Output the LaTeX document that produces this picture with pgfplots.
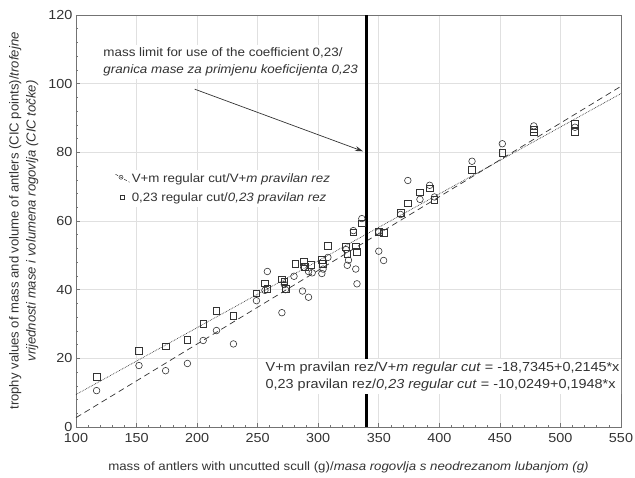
\documentclass[border=0pt]{standalone}
\usepackage{fontspec}
\setmainfont{Liberation Sans}[FakeStretch=1.1]
\newfontfamily\vfont{Liberation Sans}
\usepackage{pgfplots}
\pgfplotsset{compat=1.18}
\usetikzlibrary{arrows.meta}
\definecolor{ink}{HTML}{333333}
\definecolor{gridc}{HTML}{E0E0E0}
\newcommand\fs{\fontsize{13.1}{16.5}\selectfont}
\newcommand\fsm{\fontsize{12.2}{17}\selectfont}

\begin{document}
\begin{tikzpicture}
\path[use as bounding box] (-76pt,-50pt) rectangle (559pt,427pt);
\begin{axis}[
  at={(0,0)}, anchor=south west,
  width=545pt, height=412pt, scale only axis,
  xmin=100, xmax=550, ymin=0, ymax=120,
  xtick={100,150,...,550}, ytick={0,20,...,120},
  minor x tick num=4, minor y tick num=4,
  tick align=inside, tick pos=left,
  major tick length=4pt, minor tick length=2.5pt,
  grid=major, major grid style={gridc, line width=0.6pt},
  axis line style={black!55, line width=0.8pt},
  tick style={black!55, line width=0.6pt},
  ticklabel style={font=\fs, text=ink},
  xticklabel style={yshift=-2.5pt},
  /pgf/number format/assume math mode=true,
  xlabel={mass of antlers with uncutted scull (g)/\textit{masa rogovlja s neodrezanom lubanjom (g)}},
  xlabel style={at={(axis description cs:0.5,-0.097)}, anchor=center, font=\fontsize{12.05}{15}\selectfont, text=ink},
  ylabel={trophy values of mass and volume of antlers (CIC points)/\textit{trofejne}\\\textit{vrijednosti mase i volumena rogovlja (CIC točke)}},
  ylabel style={at={(axis description cs:-0.0957,0.5)}, anchor=center, align=center, font=\vfont\fontsize{13.1}{17}\selectfont, text=ink},
  legend style={at={(0.068,0.624)}, anchor=north west, draw=none, fill=white,
    font=\fontsize{12.1}{14}\selectfont, text=ink, inner sep=2pt, row sep=4.5pt},
  legend cell align=left,
]

\addlegendimage{legend image code/.code={
  \draw[ink, densely dashed, line width=0.5pt] (0pt,5pt) -- (14pt,-3pt);
  \draw[ink, line width=0.5pt] (5.5pt,2pt) circle (2pt);}}
\addlegendentry{V+m regular cut/V+\textit{m pravilan rez}}
\addlegendimage{legend image code/.code={
  \draw[ink, line width=0.5pt] (4.5pt,-1pt) rectangle (8.5pt,3pt);}}
\addlegendentry{0,23 regular cut/\textit{0,23 pravilan rez}}

% V+m regular cut
\addplot[only marks, mark=o, mark size=3.3pt, mark options={ink, line width=0.6pt}, forget plot] coordinates {
(117,10.6) (152,17.9) (174,16.4) (192,18.5) (205,25.2) (216,28.1) (230,24.2)
(249,36.8) (256,39.8) (258,45.3) (270,33.3) (272,41.5) (273,40.0) (280,43.9)
(287,39.6) (292,37.8) (288,46.5) (292,45.3) (295,44.9) (303,44.7) (304,46.0)
(308,49.4) (323,51.7) (324,47.1) (325,48.6) (331,46.0) (332,41.7) (329,57.2)
(336,60.7) (350,51.2) (354,48.5) (350,56.8) (368,61.9) (374,71.8) (384,66.3)
(392,70.4) (396,67.0) (427,77.4) (452,82.5) (478,87.7) (512,87.3)
};
% 0,23 regular cut
\addplot[only marks, mark=square, mark size=3.3pt, mark options={ink, line width=0.6pt}, forget plot] coordinates {
(117,14.6) (152,22.2) (174,23.5) (192,25.4) (205,30.0) (216,33.8) (230,32.4)
(249,39.0) (256,41.8) (258,40.3) (270,43.0) (272,42.4) (273,40.2) (281,47.5)
(288,48.2) (289,46.6) (294,47.2) (303,48.7) (304,47.5) (308,52.8) (323,52.4)
(324,50.5) (331,52.6) (332,51.0) (329,56.7) (336,59.3) (350,56.8) (354,56.5)
(368,62.4) (374,65.1) (384,68.4) (392,69.5) (396,66.1) (427,75.0) (452,79.9)
(478,86.7) (478,85.8) (512,88.3) (512,86.0)
};

% fitted lines
\addplot[ink, line width=0.7pt, dash pattern=on 6pt off 4pt, forget plot] coordinates {(100,2.72) (550,99.24)};
\addplot[ink, line width=0.7pt, densely dotted, forget plot] coordinates {(100,9.46) (550,97.12)};

% mass limit
\addplot[black, line width=2.4pt, forget plot] coordinates {(340,0) (340,120)};

\draw[ink, line width=0.7pt, -{Stealth[length=8pt,width=5pt]}] (axis cs:198,98.4) -- (axis cs:337,80.3);

\node[fill=white, anchor=north west, align=left, inner sep=3pt, font=\fsm, text=ink]
  at (axis cs:120,111.3) {mass limit for use of the coefficient 0,23/\\\textit{granica mase za primjenu koeficijenta 0,23}};

\node[fill=white, anchor=north west, align=left, inner sep=3pt, font=\fs, text=ink]
  at (axis cs:254,19.8) {V+m pravilan rez/V+\textit{m regular cut} = -18,7345+0,2145*x\\0,23 pravilan rez/\textit{0,23 regular cut} = -10,0249+0,1948*x};

\end{axis}
\end{tikzpicture}
\end{document}
